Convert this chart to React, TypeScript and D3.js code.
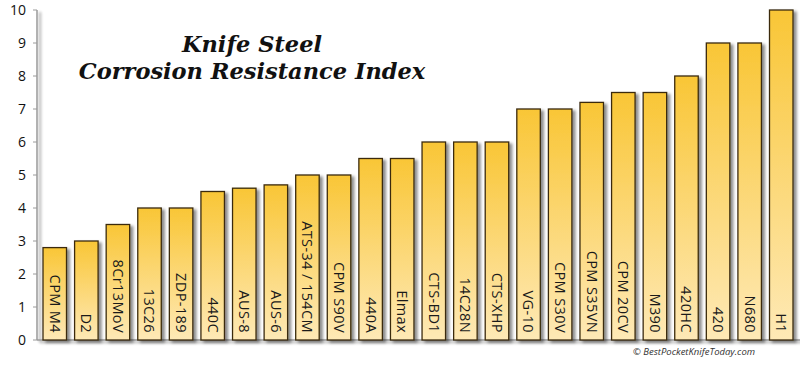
import React from "react";
import * as d3 from "d3";

const categories = ["CPM M4","D2","8Cr13MoV","13C26","ZDP-189","440C","AUS-8","AUS-6","ATS-34 / 154CM","CPM S90V","440A","Elmax","CTS-BD1","14C28N","CTS-XHP","VG-10","CPM S30V","CPM S35VN","CPM 20CV","M390","420HC","420","N680","H1"];
const values = [2.8,3.0,3.5,4.0,4.0,4.5,4.6,4.7,5.0,5.0,5.5,5.5,6.0,6.0,6.0,7.0,7.0,7.2,7.5,7.5,8.0,9.0,9.0,10];
const yTicks = [0,1,2,3,4,5,6,7,8,9,10];
const titleLines = ["Knife Steel", "Corrosion Resistance Index"];
const credit = "© BestPocketKnifeToday.com";

export default function App() {
  const W = 800, H = 372;
  const x0 = 37, x1 = 804;
  const y = d3.scaleLinear().domain([0, 10]).range([340, 10]);
  const x = d3.scaleBand().domain(categories).range([43, 793]).paddingInner(0.256).paddingOuter(0);
  return (
    <svg width={W} height={H} style={{ position: "absolute", left: 0, top: 0, background: "#fff" }}>
      <defs>
        <linearGradient id="bar" x1="0" y1="0" x2="0" y2="1">
          <stop offset="0%" stopColor="#f9c636" />
          <stop offset="100%" stopColor="#fee9b6" />
        </linearGradient>
        <filter id="sh" x="-20%" y="-5%" width="150%" height="115%">
          <feGaussianBlur in="SourceAlpha" stdDeviation="1.5" />
          <feOffset dx="3" dy="2" result="b" />
          <feComponentTransfer><feFuncA type="linear" slope="0.45" /></feComponentTransfer>
          <feMerge><feMergeNode /><feMergeNode in="SourceGraphic" /></feMerge>
        </filter>
      </defs>
      <g filter="url(#sh)">
        <line x1={x0} x2={x0} y1={y(10)} y2={y(0)} stroke="#9a9a9a" strokeWidth={1.5} />
        <line x1={x0} x2={x1} y1={y(0)} y2={y(0)} stroke="#9a9a9a" strokeWidth={1.5} />
      </g>
      {yTicks.map(t => (
        <g key={t}>
          <line x1={x0 - 4} x2={x0} y1={y(t)} y2={y(t)} stroke="#9a9a9a" strokeWidth={1} />
          <text x={26} y={y(t)} dy="0.36em" textAnchor="end" fontFamily="Open Sans" fontSize={14} fill="#111">{t}</text>
        </g>
      ))}
      {categories.map((c, i) => {
        const bx = x(c)!;
        const bw = x.bandwidth();
        return (
          <g key={c}>
            <rect x={bx} y={y(values[i])} width={bw} height={y(0) - y(values[i])} fill="url(#bar)" stroke="#3b2b0e" strokeWidth={1.3} filter="url(#sh)" />
            <text transform={`translate(${bx + bw / 2},${y(0) - 7}) rotate(90)`} textAnchor="end" dy="0.35em" fontFamily="Open Sans" fontSize={14.5} letterSpacing={0.4} fill="#1a1a1a">{c}</text>
          </g>
        );
      })}
      {titleLines.map((t, i) => (
        <text key={t} x={252} y={52 + i * 27} textAnchor="middle" fontFamily="DejaVu Serif" fontWeight="bold" fontStyle="italic" fontSize={22.5} fill="#111">{t}</text>
      ))}
      <text x={694} y={355} textAnchor="middle" fontFamily="Open Sans" fontStyle="italic" fontSize={9.5} fill="#333">{credit}</text>
    </svg>
  );
}
